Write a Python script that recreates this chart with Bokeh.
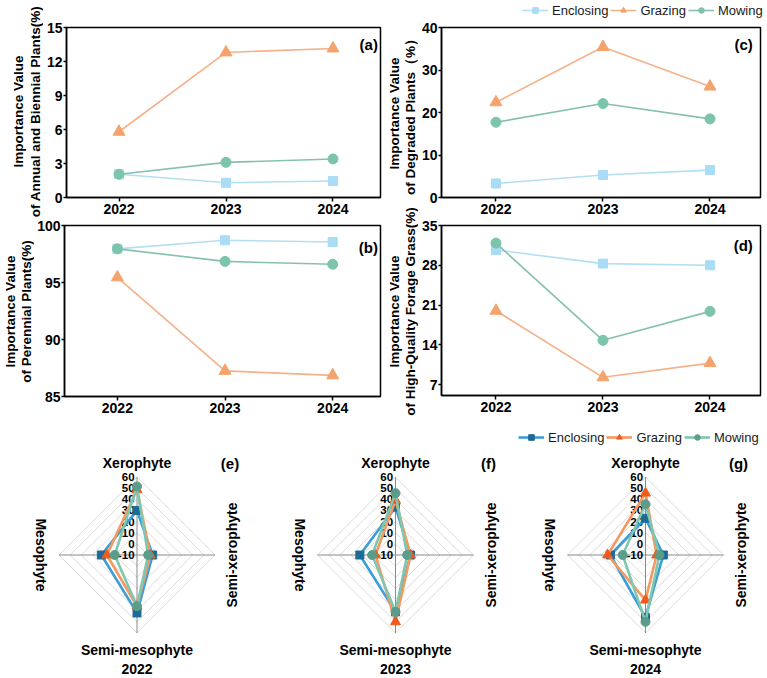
import math

from bokeh.core.properties import value
from bokeh.embed import file_html
from bokeh.layouts import column, row
from bokeh.models import FixedTicker, Label, Legend, LegendItem, Range1d
from bokeh.plotting import figure
from bokeh.resources import INLINE

# ---------------------------------------------------------------- data
YEARS = ["2022", "2023", "2024"]
TREATMENTS = ["Enclosing", "Grazing", "Mowing"]

# (a) importance value of annual and biennial plants (%)
annual_enclosing = [2.05, 1.3, 1.45]
annual_grazing = [5.8, 12.8, 13.15]
annual_mowing = [2.05, 3.1, 3.4]

# (b) importance value of perennial plants (%)
perennial_enclosing = [97.95, 98.7, 98.55]
perennial_grazing = [95.45, 87.25, 86.85]
perennial_mowing = [97.95, 96.85, 96.6]

# (c) importance value of degraded plants (%)
degraded_enclosing = [3.3, 5.3, 6.45]
degraded_grazing = [22.4, 35.4, 26.1]
degraded_mowing = [17.7, 22.1, 18.5]

# (d) importance value of high-quality forage grass (%)
forage_enclosing = [30.7, 28.3, 28.0]
forage_grazing = [20.0, 8.3, 10.8]
forage_mowing = [31.9, 14.8, 19.9]

# (e)-(g) ecological water groups, order: Xerophyte, Semi-xerophyte,
# Semi-mesophyte, Mesophyte
RADAR_AXES = ["Xerophyte", "Semi-xerophyte", "Semi-mesophyte", "Mesophyte"]
RADAR_TICKS = [-10, 0, 10, 20, 30, 40, 50, 60]
water_2022 = {
    "Enclosing": [30, 4, 42, 22],
    "Grazing": [48.5, 2, 36, 17],
    "Mowing": [51.5, 0, 36, 10],
}
water_2023 = {
    "Enclosing": [33, 3.5, 41, 22],
    "Grazing": [39, 3.5, 50, 8],
    "Mowing": [45.5, 0.5, 41, 11],
}
water_2024 = {
    "Enclosing": [23, 6, 46, 21.5],
    "Grazing": [45.5, 0, 30.5, 24],
    "Mowing": [35.5, 2.5, 50, 10.5],
}

# ---------------------------------------------------------------- style
FONT = "Liberation Sans"
LINE_STYLE = {
    "Enclosing": dict(line="#b3dff2", fill="#a9dcf5", marker="square", size=9),
    "Grazing": dict(line="#f5b189", fill="#f5a36c", marker="triangle", size=12),
    "Mowing": dict(line="#86c2ab", fill="#7cc4ab", marker="circle", size=10),
}
RADAR_STYLE = {
    "Enclosing": dict(line="#3b9ed8", fill="#1c6b96", marker="square", size=8),
    "Grazing": dict(line="#f39a62", fill="#f05a1c", marker="triangle", size=10),
    "Mowing": dict(line="#80c6b1", fill="#5b9d8a", marker="circle", size=9),
}
TITLE_KW = dict(text_font=value(FONT), text_font_style="bold", text_font_size="13.5px",
                text_color="black", text_align="center", text_baseline="middle",
                angle=math.pi / 2)
COMMON = dict(output_backend="svg", toolbar_location=None, frame_align=False)


def blank(width, height):
    p = figure(width=width, height=height, x_range=Range1d(0, width),
               y_range=Range1d(0, height), x_axis_location=None, y_axis_location=None,
               min_border=0, outline_line_color=None, **COMMON)
    p.grid.visible = False
    return p


def title_strip(width, height, entries):
    """Vertical two-line axis titles; entries are (x, y, text) in strip pixels."""
    s = blank(width, height)
    s.text(x=[e[0] for e in entries], y=[e[1] for e in entries],
           text=[e[2] for e in entries], **TITLE_KW)
    return s


def style_axes(p):
    p.grid.visible = False
    p.outline_line_color = "black"
    p.outline_line_width = 1.5
    p.axis.axis_line_width = 1.5
    p.axis.axis_line_color = "black"
    p.axis.major_tick_in = 0
    p.axis.minor_tick_out = 0
    p.axis.minor_tick_in = 0
    p.axis.major_tick_line_width = 1.5
    p.axis.major_label_text_font = FONT
    p.axis.major_label_text_font_style = "bold"
    p.axis.major_label_text_font_size = "14px"
    p.axis.major_label_text_color = "black"
    p.xaxis.major_label_standoff = 2
    p.yaxis.major_label_standoff = 1
    p.xaxis.major_tick_out = 4
    p.yaxis.major_tick_out = 3
    p.xaxis.ticker = FixedTicker(ticks=[0, 1, 2])
    p.xaxis.major_label_overrides = {i: y for i, y in enumerate(YEARS)}


def add_series(p, series, visible=True):
    xs = list(range(len(YEARS)))
    out = {}
    for name in TREATMENTS:
        st = LINE_STYLE[name]
        ln = p.line(xs, series[name], line_color=st["line"], line_width=1.6,
                    visible=visible)
        sc = p.scatter(xs, series[name], marker=st["marker"], size=st["size"],
                       fill_color=st["fill"], line_color=st["fill"], visible=visible)
        out[name] = [ln, sc]
    return out


def line_panel(width, height, borders, xr, yr, yticks, series, tag, tag_xy):
    top, right, bottom, left = borders
    p = figure(width=width, height=height, x_range=Range1d(*xr), y_range=Range1d(*yr),
               min_border_top=top, min_border_right=right,
               min_border_bottom=bottom, min_border_left=left, **COMMON)
    style_axes(p)
    p.yaxis.ticker = FixedTicker(ticks=yticks)
    add_series(p, series)
    p.add_layout(Label(x=tag_xy[0], y=tag_xy[1], text=tag, text_align="right",
                       text_baseline="middle", text_font=FONT, text_font_style="bold",
                       text_font_size="15px", text_color="black"))
    return p


def make_legend(renderers, loc):
    items = [LegendItem(label=n, renderers=renderers[n]) for n in TREATMENTS]
    return Legend(items=items, location=loc, orientation="horizontal",
                  glyph_width=26, glyph_height=14, label_standoff=4, spacing=2,
                  padding=0, margin=0, border_line_color=None,
                  background_fill_alpha=0, inactive_fill_alpha=0,
                  label_text_font=FONT, label_text_font_size="13px",
                  label_text_color="#1a1a1a", label_height=16)


LEFT_X = (-0.491, 2.444)
RIGHT_X = (-0.509, 2.472)
H1, H2 = 219, 201
LEG_H = 19

degraded = {"Enclosing": degraded_enclosing, "Grazing": degraded_grazing,
            "Mowing": degraded_mowing}

# ---------------------------------------------------------------- top panels
pa = line_panel(
    339, H1, (27, 2, 22, 20), LEFT_X, (0, 15), [0, 3, 6, 9, 12, 15],
    {"Enclosing": annual_enclosing, "Grazing": annual_grazing, "Mowing": annual_mowing},
    "(a)", (2.42, 13.5))
sa = title_strip(43, H1, [(18, H1 - 111, "Importance Value"),
                          (35, H1 - 111, "of Annual and Biennial Plants(%)")])

pb = line_panel(
    348, H2, (6, 2, 24, 28), LEFT_X, (85, 100), [85, 90, 95, 100],
    {"Enclosing": perennial_enclosing, "Grazing": perennial_grazing,
     "Mowing": perennial_mowing},
    "(b)", (2.42, 98.1))
sb = title_strip(34, H2, [(9.5, H2 - (311 - H1), "Importance Value"),
                          (26, H2 - (311 - H1), "of Perennial Plants(%)")])

# legend strip above (c): its key glyphs come from hidden copies of the (c) series
leg = blank(349, LEG_H)
leg.add_layout(make_legend(add_series(leg, degraded, visible=False), (104, 1)))

pc = line_panel(
    349, H1 - LEG_H, (8, 7, 22, 20), RIGHT_X, (0, 40), [0, 10, 20, 30, 40],
    degraded, "(c)", (2.40, 36))

pd = line_panel(
    349, H2, (6, 7, 25, 20), RIGHT_X, (5.1, 35), [7, 14, 21, 28, 35],
    {"Enclosing": forage_enclosing, "Grazing": forage_grazing, "Mowing": forage_mowing},
    "(d)", (2.40, 31.5))

HT = H1 + H2
scd = title_strip(36, HT, [(12, HT - 113, "Importance Value"),
                           (28, HT - 113, "of Degraded Plants（%）"),
                           (12, HT - 311, "Importance Value"),
                           (28, HT - 311, "of High-Quality Forage Grass(%)")])

# ---------------------------------------------------------------- radar row
S = 78 / 70  # pixels per value unit on the radar axes
RW, RH = 767, 258
radar = figure(width=RW, height=RH, x_range=Range1d(0, RW / S), y_range=Range1d(0, RH / S),
               x_axis_location=None, y_axis_location=None, min_border=0,
               outline_line_color=None, **COMMON)
radar.grid.visible = False

centers_x = [136.5 / S, 395 / S, 645 / S]
center_y = (RH - 134.5) / S
R_MIN = RADAR_TICKS[0]
R_MAX = RADAR_TICKS[-1] - R_MIN
ANGLES = [math.pi / 2, 0.0, -math.pi / 2, math.pi]
tags = ["(e)", "(f)", "(g)"]
yearly = [water_2022, water_2023, water_2024]

text_kw = dict(text_font=value(FONT), text_font_style="bold", text_color="black")
first = {}
for k, (cx, data) in enumerate(zip(centers_x, yearly)):
    # diamond grid
    gx, gy = [], []
    for t in RADAR_TICKS[1:]:
        r = t - R_MIN
        gx.append([cx + r * math.cos(a) for a in ANGLES] + [cx + r * math.cos(ANGLES[0])])
        gy.append([center_y + r * math.sin(a) for a in ANGLES] + [center_y + r * math.sin(ANGLES[0])])
    radar.multi_line(gx, gy, line_color="#d2d2d2", line_width=0.8)
    # spokes
    radar.segment(x0=[cx] * 4, y0=[center_y] * 4,
                  x1=[cx + R_MAX * math.cos(a) for a in ANGLES],
                  y1=[center_y + R_MAX * math.sin(a) for a in ANGLES],
                  line_color="#8a8a8a", line_width=1)
    # radial tick labels
    radar.text(x=[cx - 2.2] * len(RADAR_TICKS),
               y=[center_y + t - R_MIN for t in RADAR_TICKS],
               text=[str(t) for t in RADAR_TICKS], text_align="right",
               text_baseline="middle", text_font_size="11.5px", **text_kw)
    # series
    for name in TREATMENTS:
        st = RADAR_STYLE[name]
        vals = data[name]
        px = [cx + (v - R_MIN) * math.cos(a) for v, a in zip(vals, ANGLES)]
        py = [center_y + (v - R_MIN) * math.sin(a) for v, a in zip(vals, ANGLES)]
        ln = radar.line(px + px[:1], py + py[:1], line_color=st["line"], line_width=2.6)
        sc = radar.scatter(px, py, marker=st["marker"], size=st["size"],
                           fill_color=st["fill"], line_color=st["fill"])
        if k == 0:
            first[name] = [ln, sc]
    # axis names, year and panel tag
    radar.text(x=[cx], y=[center_y + 92 / S], text=[RADAR_AXES[0]], text_align="center",
               text_baseline="middle", text_font_size="14px", **text_kw)
    radar.text(x=[cx + 95 / S], y=[center_y], text=[RADAR_AXES[1]], angle=math.pi / 2,
               text_align="center", text_baseline="middle", text_font_size="14px", **text_kw)
    radar.text(x=[cx], y=[center_y - 94.5 / S], text=[RADAR_AXES[2]], text_align="center",
               text_baseline="middle", text_font_size="14px", **text_kw)
    radar.text(x=[cx - 96 / S], y=[center_y], text=[RADAR_AXES[3]], angle=-math.pi / 2,
               text_align="center", text_baseline="middle", text_font_size="14px", **text_kw)
    radar.text(x=[cx], y=[center_y - 114 / S], text=[YEARS[k]], text_align="center",
               text_baseline="middle", text_font_size="14px", **text_kw)
    radar.text(x=[cx + 93 / S], y=[center_y + 92 / S], text=[tags[k]], text_align="center",
               text_baseline="middle", text_font_size="15px", **text_kw)

radar.add_layout(make_legend(first, (518, 233)))

layout = column(
    row(column(row(sa, pa), row(sb, pb)), scd, column(leg, pc, pd)),
    radar,
)

open("out.html", "w").write(file_html(layout, INLINE))
